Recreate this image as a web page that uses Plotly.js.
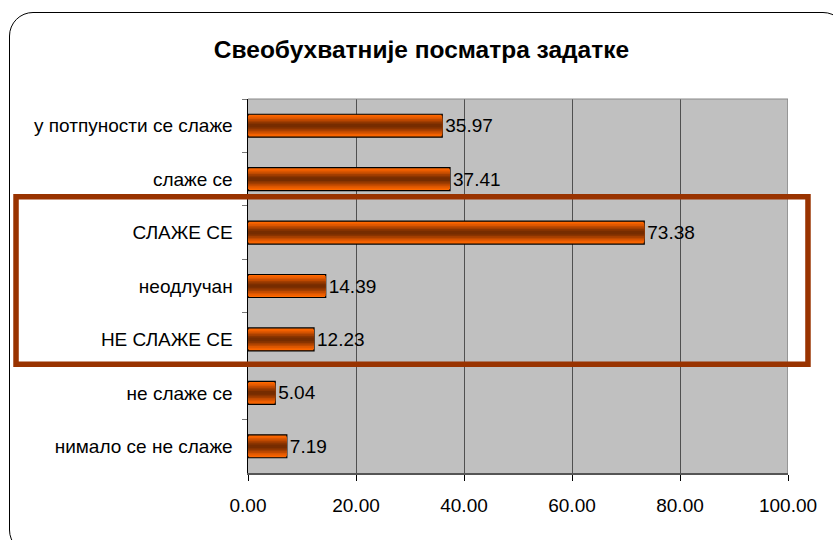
<!DOCTYPE html>
<html>
<head>
<meta charset="utf-8">
<script src="https://cdn.plot.ly/plotly-3.0.1.min.js"></script>
<style>
html,body{margin:0;padding:0;width:833px;height:540px;overflow:hidden;background:#fff;}
#chart{position:absolute;left:0;top:0;width:833px;height:540px;}
#frame{position:absolute;left:9px;top:12px;width:836px;height:540px;border:1.5px solid #000;border-radius:24px;pointer-events:none;}
</style>
</head>
<body>
<div id="chart"></div>
<div id="frame"></div>
<script>
var categories = ["у потпуности се слаже", "слаже се", "СЛАЖЕ СЕ", "неодлучан", "НЕ СЛАЖЕ СЕ", "не слаже се", "нимало се не слаже"];
var values = [35.97, 37.41, 73.38, 14.39, 12.23, 5.04, 7.19];
var labels = ["35.97", "37.41", "73.38", "14.39", "12.23", "5.04", "7.19"];
var xTickVals = [0, 20, 40, 60, 80, 100];
var xTickText = ["0.00", "20.00", "40.00", "60.00", "80.00", "100.00"];

var layers = [
  [0.43, '#FF6A00'],
  [0.37, '#F26000'],
  [0.31, '#DB5600'],
  [0.25, '#C04A00'],
  [0.19, '#A33E00'],
  [0.13, '#8A3400'],
  [0.07, '#762C00']
];
var font = 'Liberation Sans, Arial, sans-serif';
var traces = layers.map(function (l, i) {
  var t = {
    type: 'bar', orientation: 'h', x: values, y: categories,
    width: l[0], hoverinfo: 'skip',
    marker: {color: l[1], line: {width: i === 0 ? 1.2 : 0, color: '#000'}},
    showlegend: false
  };
  if (i === 0) {
    t.text = labels; t.textposition = 'outside'; t.cliponaxis = false;
    t.textfont = {family: font, size: 19, color: '#000'};
  }
  return t;
});

var layout = {
  width: 833, height: 540,
  margin: {l: 248, r: 45, t: 99, b: 67, pad: 0},
  paper_bgcolor: '#fff', plot_bgcolor: '#C0C0C0',
  barmode: 'overlay',
  title: {text: '<b>Свеобухватније посматра задатке</b>', font: {family: font, size: 24.5, color: '#000'}, x: 0.506, xanchor: 'center', y: 0.908, yanchor: 'middle'},
  xaxis: {range: [0, 100], tickvals: xTickVals, ticktext: xTickText, showgrid: true, gridcolor: '#505050', gridwidth: 1,
    ticks: 'outside', ticklen: 6, tickcolor: '#000', showline: true, linecolor: '#555', linewidth: 1.5,
    tickfont: {family: font, size: 19, color: '#000'}, ticklabelstandoff: 9, zeroline: false, fixedrange: true},
  yaxis: {autorange: 'reversed', type: 'category', tickson: 'boundaries', ticks: 'outside', ticklen: 5, tickcolor: '#777',
    showline: true, linecolor: '#000', linewidth: 1.5, showgrid: false,
    tickfont: {family: font, size: 19, color: '#000'}, ticklabelstandoff: 10, fixedrange: true},
  shapes: [
    {type: 'line', xref: 'x', yref: 'paper', x0: 100, x1: 100, y0: 0, y1: 1, line: {color: '#888', width: 1.5}},
    {type: 'line', xref: 'paper', yref: 'paper', x0: 0, x1: 1, y0: 1, y1: 1, line: {color: '#888', width: 1}},
    {type: 'rect', xref: 'paper', yref: 'paper', x0: -0.4296, x1: 1.037, y0: 0.2907, y1: 0.7387,
      line: {color: '#993300', width: 5.5}, fillcolor: 'rgba(0,0,0,0)', layer: 'above'}
  ]
};
Plotly.newPlot('chart', traces, layout, {displayModeBar: false, staticPlot: true});
</script>
</body>
</html>
